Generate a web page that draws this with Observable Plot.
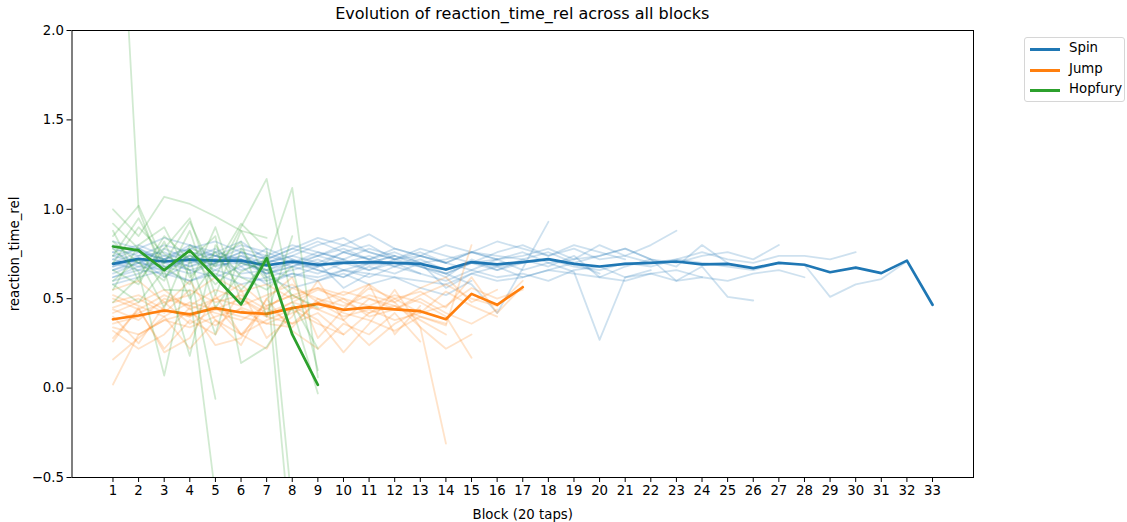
<!DOCTYPE html>
<html><head><meta charset="utf-8">
<script src="https://cdn.jsdelivr.net/npm/d3@7"></script>
<script src="https://cdn.jsdelivr.net/npm/@observablehq/plot@0.6"></script>
<style>
body{margin:0;background:#fff;font-family:"DejaVu Sans",sans-serif;}
#wrap{position:relative;width:1127px;height:522px;overflow:hidden;}
#title{position:absolute;top:4px;left:71.5px;width:901.5px;text-align:center;font-size:16px;color:#000;}
#legend{position:absolute;left:1024px;top:37px;width:101px;height:65px;border:1px solid #d6d6d6;border-radius:3px;background:#fff;box-sizing:border-box;font-size:13.3px;}
.item{position:absolute;left:0;height:20px;width:100%;}
.item .sw{position:absolute;left:5px;top:9px;width:30px;height:3px;}
.item .tx{position:absolute;left:44px;top:1px;}
</style></head><body>
<div id="wrap"><div id="chart"></div><div id="title">Evolution of reaction_time_rel across all blocks</div><div id="legend"></div></div>
<script>
const groups = ["Spin", "Jump", "Hopfury"];
const colors = ["#1f77b4", "#ff7f0e", "#2ca02c"];
const blocks = d3.range(1, 34);
const yTicks = [-0.5, 0.0, 0.5, 1.0, 1.5, 2.0];

// group means
const spinMean = [0.695,0.723,0.708,0.719,0.713,0.713,0.686,0.708,0.690,0.700,0.705,0.700,0.695,0.663,0.705,0.692,0.705,0.721,0.695,0.680,0.695,0.700,0.708,0.692,0.695,0.671,0.700,0.690,0.648,0.674,0.643,0.713,0.466];
const jumpMean = [0.385,0.406,0.434,0.412,0.447,0.423,0.415,0.447,0.471,0.438,0.452,0.440,0.430,0.385,0.527,0.466,0.564];
const hopMean = [0.792,0.770,0.660,0.770,0.620,0.468,0.727,0.300,0.018];

// individual participants (faint lines), values from block 1
const spinRuns = [
 [0.66,0.70,0.68,0.72,0.69,0.70,0.66,0.70,0.68,0.71,0.69,0.70,0.68,0.64,0.70,0.68,0.70,0.72,0.68,0.66,0.70,0.68,0.72,0.70,0.68,0.66,0.70,0.69,0.51,0.58,0.61,0.71],
 [0.74,0.78,0.72,0.76,0.74,0.72,0.70,0.74,0.80,0.84,0.76,0.72,0.74,0.70,0.76,0.72,0.74,0.78,0.72,0.80,0.74,0.70,0.72,0.76,0.72,0.70,0.74,0.74,0.72,0.76],
 [0.62,0.66,0.64,0.60,0.66,0.62,0.60,0.64,0.62,0.66,0.64,0.62,0.60,0.58,0.64,0.60,0.62,0.66,0.64,0.62,0.60,0.64,0.66,0.62,0.60,0.64,0.66,0.62],
 [0.78,0.74,0.80,0.76,0.72,0.78,0.74,0.80,0.76,0.72,0.78,0.74,0.70,0.72,0.76,0.74,0.72,0.76,0.70,0.74,0.78,0.72,0.70,0.74,0.76,0.72,0.80],
 [0.70,0.66,0.72,0.68,0.74,0.70,0.64,0.68,0.72,0.66,0.70,0.74,0.68,0.64,0.70,0.66,0.72,0.68,0.74,0.62,0.68,0.72,0.60,0.68,0.51,0.49],
 [0.68,0.74,0.76,0.70,0.72,0.66,0.70,0.74,0.70,0.76,0.72,0.68,0.74,0.70,0.66,0.72,0.76,0.70,0.72,0.74,0.78,0.72,0.68,0.80,0.70],
 [0.60,0.64,0.70,0.66,0.62,0.68,0.58,0.64,0.60,0.66,0.62,0.68,0.64,0.60,0.66,0.62,0.64,0.60,0.66,0.68,0.62,0.64,0.60,0.62],
 [0.76,0.80,0.74,0.78,0.82,0.76,0.72,0.78,0.74,0.80,0.76,0.72,0.78,0.74,0.70,0.76,0.80,0.74,0.78,0.72,0.74,0.80,0.88],
 [0.72,0.68,0.66,0.74,0.70,0.76,0.72,0.68,0.64,0.70,0.74,0.68,0.72,0.66,0.70,0.72,0.66,0.70,0.65,0.27,0.62,0.66],
 [0.82,0.78,0.84,0.80,0.76,0.82,0.72,0.78,0.84,0.80,0.86,0.78,0.74,0.80,0.76,0.82,0.78,0.74,0.80,0.76,0.72],
 [0.64,0.70,0.74,0.68,0.72,0.64,0.66,0.72,0.66,0.62,0.68,0.64,0.70,0.56,0.64,0.68,0.62,0.66,0.70,0.64],
 [0.70,0.76,0.72,0.78,0.74,0.80,0.76,0.70,0.74,0.78,0.72,0.76,0.70,0.64,0.58,0.42,0.67,0.93],
 [0.66,0.72,0.62,0.70,0.76,0.72,0.64,0.68,0.74,0.70,0.66,0.72,0.68,0.62,0.72,0.66,0.70],
 [0.74,0.70,0.78,0.72,0.66,0.74,0.70,0.76,0.82,0.76,0.72,0.78,0.74,0.70,0.76,0.72],
 [0.58,0.62,0.66,0.60,0.64,0.58,0.62,0.56,0.60,0.64,0.58,0.62,0.56,0.52,0.60],
 [0.80,0.76,0.72,0.80,0.74,0.70,0.78,0.72,0.68,0.76,0.80,0.72,0.76,0.70],
 [0.68,0.72,0.68,0.64,0.70,0.74,0.66,0.62,0.68,0.72,0.66,0.70,0.64],
 [0.76,0.70,0.66,0.72,0.78,0.68,0.74,0.70,0.66,0.62,0.70,0.74],
 [0.62,0.68,0.72,0.66,0.70,0.76,0.62,0.66,0.70,0.56,0.64],
 [0.72,0.78,0.70,0.74,0.68,0.72,0.64,0.70,0.76,0.72]
];
const jumpRuns = [
 [0.02,0.30,0.38,0.42,0.35,0.45,0.40,0.48,0.44,0.38,0.50,0.46,0.40,0.35,0.80],
 [0.16,0.28,0.40,0.22,0.38,0.30,0.45,0.36,0.42,0.30],
 [0.45,0.50,0.42,0.55,0.48,0.52,0.44,0.56,0.50,0.46,0.52,0.48,0.34,-0.31],
 [0.38,0.42,0.48,0.36,0.44,0.40,0.36,0.42,0.48,0.40,0.44,0.38,0.42,0.46,0.56,0.50,0.55],
 [0.50,0.44,0.52,0.46,0.55,0.50,0.42,0.48,0.55,0.50,0.46,0.52,0.48,0.40,0.17],
 [0.32,0.22,0.30,0.45,0.24,0.28,0.50,0.32,0.22,0.36,0.30,0.42,0.26],
 [0.42,0.48,0.55,0.44,0.50,0.58,0.46,0.52,0.56,0.48,0.42,0.50,0.54,0.45,0.62,0.42,0.57],
 [0.28,0.44,0.22,0.38,0.30,0.55,0.28,0.40,0.60,0.38,0.24,0.36,0.44],
 [0.55,0.60,0.48,0.52,0.62,0.54,0.58,0.50,0.56,0.52,0.58,0.48,0.56,0.62,0.48,0.55],
 [0.36,0.40,0.44,0.40,0.46,0.30,0.38,0.44,0.36,0.30,0.42,0.46,0.38,0.30],
 [0.40,0.25,0.46,0.60,0.38,0.24,0.50,0.62,0.28,0.44,0.58,0.30,0.46],
 [0.48,0.52,0.44,0.40,0.50,0.46,0.52,0.58,0.48,0.44,0.56,0.50,0.42,0.54,0.46,0.40],
 [0.34,0.30,0.38,0.34,0.40,0.44,0.36,0.34,0.50,0.42,0.38,0.32,0.40,0.36],
 [0.44,0.38,0.50,0.46,0.42,0.38,0.46,0.52,0.44,0.50,0.40,0.44,0.50,0.42,0.36,0.44],
 [0.26,0.45,0.20,0.28,0.52,0.30,0.22,0.46,0.38,0.20,0.36,0.55,0.34,0.22,0.30],
 [0.52,0.46,0.40,0.48,0.44,0.50,0.40,0.36,0.48,0.54,0.50,0.44,0.52,0.58,0.50,0.46,0.60]
];
const hopRuns = [
 [3.60,1.00,0.62,0.75,0.58,0.70,0.66,0.52,0.45],
 [1.00,0.85,1.07,1.03,0.96,0.88,0.62,-0.95],
 [0.92,0.78,0.55,0.545,-0.60],
 [0.85,1.02,0.70,0.93,0.62,0.90,1.17,0.48,0.22],
 [0.78,0.65,0.07,0.72,0.85,0.14,0.23,0.45,-0.03],
 [0.70,0.90,0.75,0.66,-0.06],
 [0.60,0.72,0.45,0.80,0.68,0.92,0.78,-0.67],
 [0.55,0.80,0.90,0.62,0.76,0.55,0.70,1.12,0.06],
 [0.66,0.58,0.82,0.50,0.70,0.82,0.40,0.85],
 [0.82,0.70,0.60,0.88,0.45,0.65,0.72],
 [0.74,0.95,0.68,0.58,0.90,0.48,0.75,0.30],
 [0.48,0.62,0.85,0.72,0.30,0.78,0.60],
 [0.88,0.60,0.78,0.95,0.52,0.88,0.84],
 [0.58,0.48,0.66,0.18,0.80,0.62,0.55,0.68,0.10]
];

function runsTable(runs, g) {
  const out = [];
  runs.forEach((r, i) => r.forEach((v, k) => out.push({id: g + i, group: g, block: k + 1, value: v})));
  return out;
}
function meanTable(m, g) { return m.map((v, k) => ({group: g, block: k + 1, value: v})); }

const runs = [spinRuns, jumpRuns, hopRuns];
const means = [spinMean, jumpMean, hopMean];
const marks = [];
groups.forEach((g, i) => {
  marks.push(Plot.line(runsTable(runs[i], g), {x: "block", y: "value", z: "id", stroke: colors[i], strokeOpacity: 0.22, strokeWidth: 1.8, clip: true}));
  marks.push(Plot.line(meanTable(means[i], g), {x: "block", y: "value", stroke: colors[i], strokeWidth: 2.7, clip: true}));
});

const chart = Plot.plot({
  width: 1127, height: 522,
  marginLeft: 71.5, marginRight: 154, marginTop: 30, marginBottom: 45,
  style: {fontFamily: "DejaVu Sans, sans-serif", fontSize: "13.3px", color: "#000", background: "#fff"},
  x: {domain: [-0.6, 34.6]},
  y: {domain: [-0.5, 2.0]},
  marks: [
    ...marks,
    Plot.frame({stroke: "#000", strokeWidth: 1}),
    Plot.axisX({ticks: blocks, tickSize: 5, tickPadding: 3, tickFormat: d3.format("d"), label: "Block (20 taps)", labelAnchor: "center", labelArrow: "none", labelOffset: 41}),
    Plot.axisY({ticks: yTicks, tickSize: 5, tickPadding: 3, tickFormat: d3.format(".1f"), label: "reaction_time_rel", labelAnchor: "center", labelArrow: "none", labelOffset: 62})
  ]
});
document.getElementById("chart").appendChild(chart);

const leg = document.getElementById("legend");
groups.forEach((g, i) => {
  const it = document.createElement("div");
  it.className = "item";
  it.style.top = (1 + i * 20.5) + "px";
  it.innerHTML = `<div class="sw" style="background:${colors[i]}"></div><div class="tx">${g}</div>`;
  leg.appendChild(it);
});
</script>
</body></html>
